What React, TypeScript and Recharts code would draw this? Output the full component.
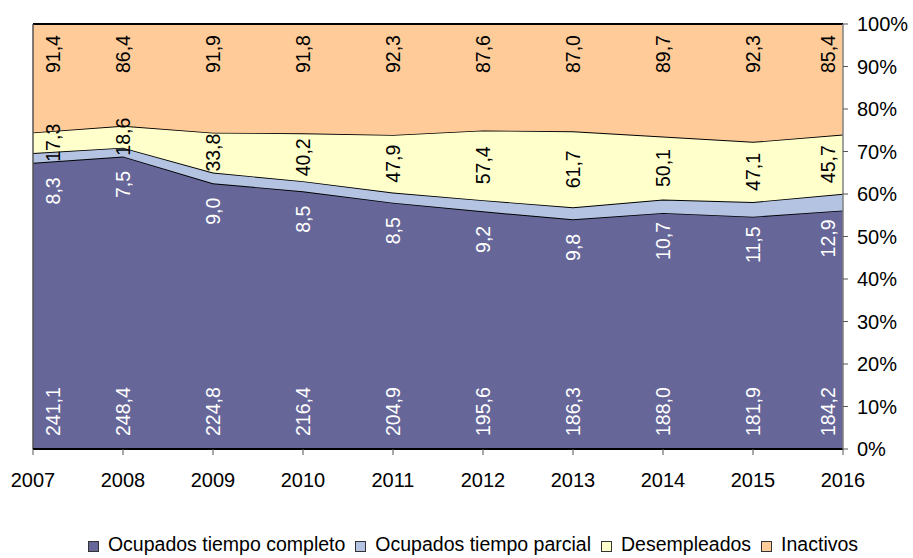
import React from 'react';
import { AreaChart, Area, XAxis, YAxis, LabelList, Legend, ReferenceLine } from 'recharts';

const years = ['2007', '2008', '2009', '2010', '2011', '2012', '2013', '2014', '2015', '2016'];
const ocupadosCompleto = [241.1, 248.4, 224.8, 216.4, 204.9, 195.6, 186.3, 188.0, 181.9, 184.2];
const ocupadosParcial = [8.3, 7.5, 9.0, 8.5, 8.5, 9.2, 9.8, 10.7, 11.5, 12.9];
const desempleados = [17.3, 18.6, 33.8, 40.2, 47.9, 57.4, 61.7, 50.1, 47.1, 45.7];
const inactivos = [91.4, 86.4, 91.9, 91.8, 92.3, 87.6, 87.0, 89.7, 92.3, 85.4];
const yTicks = [0, 0.1, 0.2, 0.3, 0.4, 0.5, 0.6, 0.7, 0.8, 0.9, 1];
const seriesNames = ['Ocupados tiempo completo', 'Ocupados tiempo parcial', 'Desempleados', 'Inactivos'];
const seriesKeys = ['completo', 'parcial', 'desempleados', 'inactivos'];
const seriesColors = ['#666699', '#B3C3E1', '#FFFFCC', '#FFCC99'];

const data = years.map((year, i) => ({
  year,
  completo: ocupadosCompleto[i],
  parcial: ocupadosParcial[i],
  desempleados: desempleados[i],
  inactivos: inactivos[i],
}));

const W = 913;
const H = 558;
const MARGIN = { top: 24, left: 33, right: 0, bottom: 2 };
const LEGEND_H = 24;
const XAXIS_H = 83;
const YAXIS_W = 70;
const PLOT_BOTTOM = H - MARGIN.bottom - LEGEND_H - XAXIS_H;
const PLOT_H = PLOT_BOTTOM - MARGIN.top;
const FONT = '"Liberation Sans", Arial, sans-serif';
const LABEL_SIZE = 19.5;

const fmt = (v: number) => v.toFixed(1).replace('.', ',');
const totalAt = (i: number) => ocupadosCompleto[i] + ocupadosParcial[i] + desempleados[i] + inactivos[i];

const edgeShift = (index: number) => (index === 0 ? 20 : index === years.length - 1 ? -15 : 0);

const rotated = (cx: number, cy: number, text: string, fill: string, anchor: string) => (
  <text
    x={cx}
    y={cy}
    transform={`rotate(-90 ${cx} ${cy})`}
    textAnchor={anchor}
    dy="0.36em"
    fontSize={LABEL_SIZE}
    fontFamily={FONT}
    fill={fill}
  >
    {text}
  </text>
);

const labelCompleto = (props: any) => {
  const { x, index } = props;
  const cx = x + edgeShift(index);
  return rotated(cx, PLOT_BOTTOM - 13, fmt(ocupadosCompleto[index]), '#ffffff', 'start');
};

const labelParcial = (props: any) => {
  const { x, y, index } = props;
  const cx = x + edgeShift(index);
  const completoTop = y + (ocupadosParcial[index] / totalAt(index)) * PLOT_H;
  return rotated(cx, completoTop + 28, fmt(ocupadosParcial[index]), '#ffffff', 'middle');
};

const labelDesempleados = (props: any) => {
  const { x, y, index } = props;
  const cx = x + edgeShift(index);
  const mid = y + (desempleados[index] / totalAt(index)) * PLOT_H / 2;
  return rotated(cx, mid, fmt(desempleados[index]), '#000000', 'middle');
};

const labelInactivos = (props: any) => {
  const { x, y, index } = props;
  const cx = x + edgeShift(index);
  return rotated(cx, y + 30, fmt(inactivos[index]), '#000000', 'middle');
};

const labelRenderers = [labelCompleto, labelParcial, labelDesempleados, labelInactivos];

const renderLegend = () => (
  <div
    style={{
      display: 'flex',
      justifyContent: 'center',
      alignItems: 'center',
      height: LEGEND_H,
      fontFamily: FONT,
      fontSize: LABEL_SIZE,
      color: '#000',
      whiteSpace: 'nowrap',
      boxSizing: 'border-box',
    }}
  >
    {seriesNames.map((name, i) => (
      <span
        key={name}
        style={{ display: 'flex', alignItems: 'center', marginRight: i < seriesNames.length - 1 ? 10 : 0 }}
      >
        <span
          style={{
            display: 'inline-block',
            width: 11,
            height: 11,
            background: seriesColors[i],
            border: '1px solid #333',
            boxSizing: 'border-box',
            marginRight: 9,
            marginTop: 4,
          }}
        />
        {name}
      </span>
    ))}
  </div>
);

export default function App() {
  return (
    <div style={{ position: 'absolute', left: 0, top: 0, width: W, height: H, background: '#fff' }}>
      <AreaChart
        width={W}
        height={H}
        data={data}
        stackOffset="expand"
        margin={MARGIN}
        style={{ fontFamily: FONT }}
      >
        <XAxis
          dataKey="year"
          interval={0}
          height={XAXIS_H}
          tickSize={6}
          tickMargin={18}
          axisLine={{ stroke: '#000', strokeWidth: 2 }}
          tickLine={{ stroke: '#555' }}
          tick={{ fill: '#000', fontSize: 20, fontFamily: FONT }}
        />
        <YAxis
          orientation="right"
          domain={[0, 1]}
          ticks={yTicks}
          width={YAXIS_W}
          tickSize={5}
          tickMargin={9}
          axisLine={{ stroke: '#808080', strokeWidth: 1.5 }}
          tickLine={{ stroke: '#555' }}
          tick={{ fill: '#000', fontSize: 20, fontFamily: FONT }}
          tickFormatter={(v: number) => `${Math.round(v * 100)}%`}
        />
        {seriesKeys.map((key, i) => (
          <Area
            key={key}
            type="linear"
            dataKey={key}
            name={seriesNames[i]}
            stackId="1"
            stroke="#000"
            strokeWidth={1.8}
            fill={seriesColors[i]}
            fillOpacity={1}
            dot={false}
            activeDot={false}
            isAnimationActive={false}
          >
            <LabelList dataKey={key} content={labelRenderers[i]} />
          </Area>
        ))}
        <ReferenceLine x="2007" stroke="#555" strokeWidth={1.5} />
        <Legend verticalAlign="bottom" align="center" height={LEGEND_H} content={renderLegend} />
      </AreaChart>
    </div>
  );
}
